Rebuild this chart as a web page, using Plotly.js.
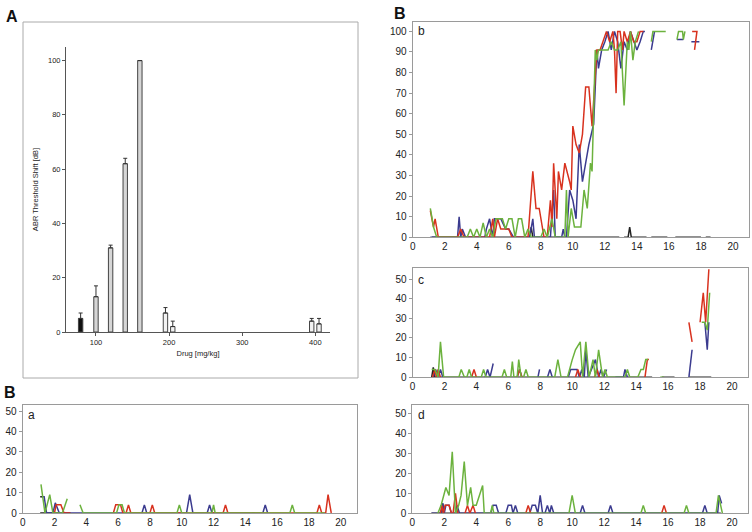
<!DOCTYPE html>
<html><head><meta charset="utf-8">
<script src="https://cdn.plot.ly/plotly-3.0.1.min.js"></script>
<style>html,body{margin:0;padding:0;background:#fff}#chart{width:752px;height:532px}</style>
</head><body><div id="chart"></div>
<script>
// ---------- Panel A: bar chart ----------
const doseX = [79, 100, 120, 140, 160, 195, 205, 395, 405];
const shiftY = [5, 13, 31, 62, 100, 7, 2, 4, 3];
const shiftErr = [2, 4, 1, 2, 0, 2, 2, 1, 2];
const barFill = ['#111111', '#d6d6d6', '#d6d6d6', '#d6d6d6', '#d6d6d6', '#f2f2f2', '#f2f2f2', '#f2f2f2', '#f2f2f2'];
const aXTicks = [100, 200, 300, 400];
const aYTicks = [0, 20, 40, 60, 80, 100];

// ---------- Panel B b ----------
const bGreenX = [1.1,1.3,1.5,3.4,3.6,3.8,4.0,4.2,4.4,4.6,4.8,5.0,5.2,5.6,5.8,6.0,6.2,6.4,6.6,6.8,7.0,7.2,7.4,8.0,8.2,8.4,8.7,8.9,9.5,9.6,9.7,9.9,10.1,10.5,10.7,10.9,11.1,11.2,11.4,11.5,11.6,12.0,12.2,12.4,12.6,12.8,13.0,13.2,13.4,13.5,13.6,13.75,13.9,14.1,null,14.9,15.0,15.8,null,16.5,16.6,16.85,16.9,17.0];
const bGreenY = [14,5,0,0,4,0,4,0,7,0,4,0,9,9,4,9,9,0,9,9,0,4,0,0,4,0,9,0,0,23,0,14,5,5,23,14,36,32,91,86,91,91,91,95,91,91,95,64,95,91,100,86,95,100,null,95,100,100,null,96,100,100,96,100];
const bRedX = [1.1,1.3,1.4,1.6,2.8,3.0,3.2,4.8,5.0,5.1,5.3,5.5,5.8,6.0,6.2,7.2,7.5,7.7,7.9,8.0,8.2,8.4,8.6,8.7,8.8,9.0,9.1,9.3,9.5,9.8,9.9,10.0,10.2,10.4,10.6,10.8,11.0,11.2,11.4,11.5,11.7,11.9,12.1,12.3,12.5,12.6,12.7,12.8,12.95,13.1,13.2,13.4,13.6,13.8,14.0,14.2,14.4,null,17.45,17.75,17.6];
const bRedY = [13,5,9,0,0,4,0,0,9,0,9,4,4,4,0,0,32,14,14,9,0,0,18,5,36,9,32,23,36,27,23,54,45,41,50,73,73,54,82,91,91,95,100,95,100,91,70,100,100,91,100,95,100,95,95,100,100,null,100,100,91];
const bBlueX = [1.1,2.8,2.9,3.0,3.1,3.3,4.5,4.6,4.8,5.0,5.1,5.5,5.8,6.0,6.3,7.3,7.5,7.6,8.6,8.8,8.9,9.3,9.4,9.5,9.6,9.8,10.0,10.2,10.4,10.6,10.8,11.0,11.3,11.5,11.6,11.8,12.0,12.2,12.4,12.6,12.8,13.0,13.2,13.4,13.6,13.8,14.0,14.2,14.4,14.5,null,14.9,15.1,null,16.5,16.9,null,17.4,17.9];
const bBlueY = [0,0,10,0,4,0,0,4,9,0,9,9,4,4,0,0,9,0,0,23,0,0,4,0,0,23,18,9,45,27,36,45,55,91,82,91,95,100,91,100,95,82,95,91,100,95,91,95,100,100,null,91,100,null,96,96,null,95,95];
const bBlackX = [1.2,7.3,7.4,7.5,12.9,null,13.2,13.45,13.55,13.65,14.6,null,14.9,15.9,null,16.4,18.0,null,18.3,18.6];
const bBlackY = [0,0,5,0,0,null,0,0,5,0,0,null,0,0,null,0,0,null,0,0];

// ---------- Panel B c ----------
const cGreenX = [1.2,1.4,1.6,1.75,1.95,2.9,3.05,3.25,3.4,3.55,3.7,4.3,4.45,4.6,5.6,5.75,5.9,6.15,6.25,6.35,6.55,6.65,6.8,6.95,7.1,7.25,8.9,9.1,9.3,9.7,10.0,10.2,10.5,10.65,10.85,11.05,11.3,11.45,11.65,11.9,12.05,12.2,13.3,13.45,13.6,14.1,14.3,14.45,14.6,14.75,null,15.5,15.75,null,18.1,18.3,18.45,18.6];
const cGreenY = [4,4,0,18,0,0,4,0,0,4,0,0,4,0,0,4,0,0,8,0,0,9,0,0,4,0,0,9,0,0,9,14,18,0,18,0,9,0,14,0,4,0,0,4,0,0,4,4,9,9,null,0,0,null,28,28,24,43];
const cRedX = [1.25,1.4,1.5,1.6,1.75,null,3.7,3.85,4.0,null,6.55,6.7,6.85,null,10.2,10.35,10.5,null,11.4,11.55,11.7,null,14.55,14.7,14.8,null,17.3,17.5,null,18.0,18.2,18.35,18.55];
const cRedY = [0,4,0,4,0,null,0,4,0,null,0,4,0,null,0,4,0,null,0,4,0,null,0,9,9,null,28,18,null,28,43,28,55];
const cBlueX = [1.3,1.45,1.6,1.75,1.9,null,4.55,4.7,4.85,5.05,null,6.55,6.7,6.85,null,7.85,7.95,null,8.45,8.6,8.75,null,9.75,9.9,10.3,10.45,10.6,10.75,10.85,11.0,11.2,11.45,11.65,11.8,11.95,12.15,null,12.7,13.2,13.3,13.45,null,17.3,17.5,null,18.3,18.45,18.55];
const cBlueY = [0,4,0,4,0,null,0,4,0,7,null,0,4,0,null,0,4,null,0,4,0,null,0,4,4,0,4,0,14,0,4,9,0,4,0,4,null,0,0,4,0,null,0,14,null,28,14,28];
const cBlackX = [1.2,1.3,1.4,15.0,null,15.6,16.4,null,17.3,18.7];
const cBlackY = [0,5,0,0,null,0,0,null,0,0];

// ---------- Panel B d ----------
const dGreenX = [1.6,1.8,2.1,2.3,2.5,2.7,2.9,3.05,3.25,3.45,3.65,3.8,4.0,4.4,4.5,4.9,5.0,5.1,9.8,10.0,10.2,14.3,14.45,14.6,17.0,17.15,17.3,19.0,19.15,19.4];
const dGreenY = [0,4,13,9,31,0,4,9,26,4,13,4,4,14,0,0,4,0,0,9,0,0,4,0,0,4,0,0,9,0];
const dRedX = [1.75,1.85,1.95,2.05,2.3,2.45,null,2.55,2.7,2.85,null,3.3,3.45,3.6,3.8,3.95,null,7.1,7.25,7.4,null,15.6,15.75,15.9];
const dRedY = [0,4,0,4,4,0,null,0,10,0,null,0,4,0,4,0,null,0,4,0,null,0,4,0];
const dBlueX = [1.2,1.8,1.9,2.0,2.1,2.3,2.45,2.7,2.8,2.95,4.9,5.05,5.25,5.4,5.85,6.0,6.2,6.3,6.45,6.6,7.35,7.5,7.7,7.85,8.0,8.15,8.3,8.45,8.6,8.7,8.85,10.5,10.65,10.8,12.25,12.4,12.55,18.15,18.3,18.45,19.1,19.2,19.35];
const dBlueY = [0,0,5,0,4,4,0,0,4,0,0,4,4,0,0,4,4,0,4,0,0,4,4,0,9,0,0,4,0,4,0,0,4,0,0,4,0,0,4,0,0,9,5];
const dBlackX = [1.2,1.85,1.9,2.0,19.3];
const dBlackY = [0,0,5,0,0];

// ---------- Panel B a ----------
const aGreenX = [1.15,1.4,1.7,1.9,2.5,2.8,null,3.6,3.8,5.9,6.05,6.25,6.4,9.7,9.85,10.0,11.9,12.0,12.1,16.8,16.95,17.1,19.0];
const aGreenY = [14,0,9,0,0,7,null,4,0,0,4,4,0,0,4,0,0,4,0,0,4,0,0];
const aRedX = [2.0,2.1,2.4,2.6,3.0,null,5.7,5.85,6.15,6.3,6.5,6.65,6.8,8.0,8.15,8.3,12.6,12.75,12.9,18.5,18.65,18.8,19.05,19.2,19.4];
const aRedY = [0,4,4,0,0,null,0,4,4,0,0,4,0,0,4,0,0,4,0,0,4,0,0,9,0];
const aBlueX = [1.2,1.35,1.5,1.9,2.05,2.3,7.5,7.65,7.8,10.3,10.5,10.7,11.6,11.75,11.9,15.1,15.25,15.4];
const aBlueY = [8,8,0,0,5,0,0,4,0,0,9,0,0,4,0,0,4,0];
const aBlackX = [1.1,1.25,null,1.1,3.0,null,14.4,14.6];
const aBlackY = [8,8,null,0,0,null,0,0];

const freqTicks = [0,2,4,6,8,10,12,14,16,18,20];

// ---------- styles ----------
const COL = {black:'#222222', blue:'#3b3b8f', red:'#d8321f', green:'#6cb23e'};
const W = 752, H = 532;
const px = v => v / W, py = v => 1 - v / H;

function line(x, y, c, n) {
  return {type:'scatter', mode:'lines', x:x, y:y, xaxis:'x'+n, yaxis:'y'+n,
    line:{color:COL[c], width:1.5}, connectgaps:false, hoverinfo:'skip', showlegend:false};
}

const traces = [
  {type:'bar', x:doseX, y:shiftY, width:6, xaxis:'x', yaxis:'y',
   marker:{color:barFill, line:{color:'#444', width:1}},
   error_y:{type:'data', array:shiftErr, arrayminus:shiftErr.map(()=>0), symmetric:false, color:'#333', thickness:1, width:2},
   showlegend:false, hoverinfo:'skip'}
];
const panels = [
  [2, bBlackX,bBlackY,bBlueX,bBlueY,bRedX,bRedY,bGreenX,bGreenY],
  [3, cBlackX,cBlackY,cBlueX,cBlueY,cRedX,cRedY,cGreenX,cGreenY],
  [4, dBlackX,dBlackY,dBlueX,dBlueY,dRedX,dRedY,dGreenX,dGreenY],
  [5, aBlackX,aBlackY,aBlueX,aBlueY,aRedX,aRedY,aGreenX,aGreenY]
];
panels.forEach(p => {
  traces.push(line(p[1],p[2],'black',p[0]));
  traces.push(line(p[3],p[4],'blue',p[0]));
  traces.push(line(p[5],p[6],'red',p[0]));
  traces.push(line(p[7],p[8],'green',p[0]));
});

const tickFont = {family:'"Liberation Sans", Arial, sans-serif', size:10, color:'#222'};
function bx(dom) {
  return {domain:dom, range:[0,21], tickvals:freqTicks, ticks:'', showgrid:false, zeroline:false,
    showline:true, linecolor:'#9a9a9a', linewidth:1, mirror:true, tickfont:tickFont, ticklen:0, fixedrange:true};
}
function by(dom, top, step) {
  const tv = []; for (let v = 0; v <= (top > 60 ? 100 : 50); v += step) tv.push(v);
  return {domain:dom, range:[0,top], tickvals:tv, ticks:'outside', ticklen:3, tickcolor:'#999', showgrid:false, zeroline:false,
    showline:true, linecolor:'#9a9a9a', linewidth:1, mirror:true, tickfont:tickFont, fixedrange:true};
}
const smallFont = {family:'"Liberation Sans", Arial, sans-serif', size:7.5, color:'#222'};

const layout = {
  width:W, height:H, margin:{l:0,r:0,t:0,b:0}, paper_bgcolor:'#fff', plot_bgcolor:'rgba(0,0,0,0)',
  showlegend:false,
  xaxis:{domain:[px(66),px(330)], range:[59,420], tickvals:aXTicks, ticks:'outside', ticklen:3, tickcolor:'#555',
    showline:true, linecolor:'#555', linewidth:1, showgrid:false, zeroline:false, tickfont:smallFont,
    title:{text:'Drug [mg/kg]', font:smallFont, standoff:4}, anchor:'y'},
  yaxis:{domain:[py(332),py(47)], range:[0,105], tickvals:aYTicks, ticks:'outside', ticklen:3, tickcolor:'#555',
    showline:true, linecolor:'#555', linewidth:1, showgrid:false, zeroline:false, tickfont:smallFont,
    title:{text:'ABR Threshold Shift [dB]', font:smallFont, standoff:8}, anchor:'x'},
  xaxis2:Object.assign(bx([px(412.7),px(749)]), {anchor:'y2'}),
  yaxis2:Object.assign(by([py(237.3),py(21.7)], 104.7, 10), {anchor:'x2'}),
  xaxis3:Object.assign(bx([px(412.5),px(748)]), {anchor:'y3'}),
  yaxis3:Object.assign(by([py(377.3),py(268)], 55.6, 10), {anchor:'x3'}),
  xaxis4:Object.assign(bx([px(412.3),px(748)]), {anchor:'y4'}),
  yaxis4:Object.assign(by([py(513.3),py(405)], 54.5, 10), {anchor:'x4'}),
  xaxis5:Object.assign(bx([px(22.7),px(356.7)]), {anchor:'y5'}),
  yaxis5:Object.assign(by([py(513),py(405)], 53, 10), {anchor:'x5'}),
  shapes:[
    {type:'rect', xref:'paper', yref:'paper', x0:px(23), x1:px(358), y0:py(378), y1:py(22), line:{color:'#aaaaaa', width:1}}
  ],
  annotations:[
    {text:'<b>A</b>', xref:'paper', yref:'paper', x:px(4), y:py(17), xanchor:'left', yanchor:'middle', showarrow:false, font:{family:'Arial, sans-serif', size:16, color:'#111'}},
    {text:'<b>B</b>', xref:'paper', yref:'paper', x:px(392), y:py(13), xanchor:'left', yanchor:'middle', showarrow:false, font:{family:'Arial, sans-serif', size:16, color:'#111'}},
    {text:'<b>B</b>', xref:'paper', yref:'paper', x:px(2), y:py(392), xanchor:'left', yanchor:'middle', showarrow:false, font:{family:'Arial, sans-serif', size:16, color:'#111'}},
    {text:'b', xref:'paper', yref:'paper', x:px(416), y:py(31), xanchor:'left', yanchor:'middle', showarrow:false, font:{family:'Arial, sans-serif', size:12, color:'#222'}},
    {text:'c', xref:'paper', yref:'paper', x:px(416), y:py(280), xanchor:'left', yanchor:'middle', showarrow:false, font:{family:'Arial, sans-serif', size:12, color:'#222'}},
    {text:'d', xref:'paper', yref:'paper', x:px(416), y:py(415), xanchor:'left', yanchor:'middle', showarrow:false, font:{family:'Arial, sans-serif', size:12, color:'#222'}},
    {text:'a', xref:'paper', yref:'paper', x:px(26), y:py(415), xanchor:'left', yanchor:'middle', showarrow:false, font:{family:'Arial, sans-serif', size:12, color:'#222'}}
  ]
};

Plotly.newPlot('chart', traces, layout, {staticPlot:true, displayModeBar:false});
</script>
</body></html>
